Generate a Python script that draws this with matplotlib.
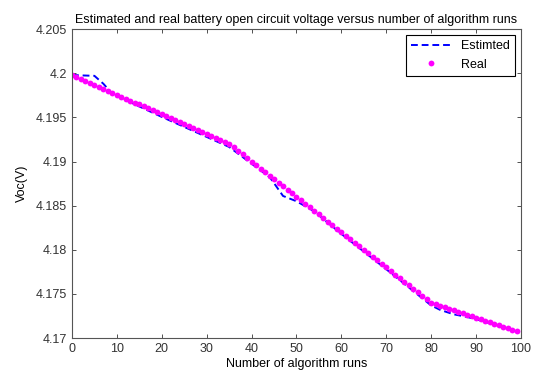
import matplotlib
matplotlib.use("Agg")
import matplotlib.pyplot as plt
from matplotlib.ticker import FuncFormatter

plt.rcParams['font.family'] = ['Liberation Sans', 'DejaVu Sans']

# Real open circuit voltage, one value per algorithm run (0..99)
real_runs = list(range(100))
real_voc = [
    4.19980, 4.19958, 4.19935, 4.19913, 4.19891, 4.19869, 4.19846, 4.19824, 4.19802, 4.19779,
    4.19757, 4.19735, 4.19712, 4.19690, 4.19668, 4.19646, 4.19623, 4.19601, 4.19579, 4.19556,
    4.19534, 4.19512, 4.19489, 4.19467, 4.19445, 4.19423, 4.19400, 4.19378, 4.19356, 4.19333,
    4.19311, 4.19289, 4.19266, 4.19244, 4.19222, 4.19200, 4.19160, 4.19120, 4.19080, 4.19040,
    4.19000, 4.18960, 4.18920, 4.18880, 4.18840, 4.18800, 4.18760, 4.18720, 4.18680, 4.18640,
    4.18600, 4.18560, 4.18520, 4.18480, 4.18440, 4.18400, 4.18360, 4.18320, 4.18280, 4.18240,
    4.18200, 4.18160, 4.18120, 4.18080, 4.18040, 4.18000, 4.17960, 4.17920, 4.17880, 4.17840,
    4.17800, 4.17760, 4.17720, 4.17680, 4.17640, 4.17600, 4.17560, 4.17520, 4.17480, 4.17440,
    4.17400, 4.17383, 4.17366, 4.17349, 4.17333, 4.17316, 4.17299, 4.17282, 4.17265, 4.17248,
    4.17232, 4.17215, 4.17198, 4.17181, 4.17164, 4.17147, 4.17131, 4.17114, 4.17097, 4.17080,
]

# Estimated voltage (read at the breakpoints of the dashed curve)
est_runs = [0, 2, 5, 7, 9, 20, 35, 40, 44, 45, 47, 50, 54, 60, 70, 80, 82, 85, 88, 91, 95, 99]
est_voc = [4.19980, 4.19975, 4.19970, 4.19880, 4.19765, 4.19505, 4.19165, 4.18975, 4.18825,
           4.18755, 4.18610, 4.18550, 4.18435, 4.18180, 4.17780, 4.17370, 4.17320, 4.17270,
           4.17240, 4.17200, 4.17140, 4.17075]

x_ticks = list(range(0, 101, 10))
y_ticks = [4.17, 4.175, 4.18, 4.185, 4.19, 4.195, 4.2, 4.205]

fig = plt.figure(figsize=(5.33, 3.72), dpi=100)
ax = fig.add_axes([0.135, 0.091, 0.8425, 0.831])

ax.plot(est_runs, est_voc, "--", color=(0, 0, 1), lw=1.4, dashes=(3.5, 2), label="Estimted")
ax.plot(real_runs, real_voc, "o", color=(1, 0, 1), ms=4.2, mec="none", ls="none", label="Real")

ax.set_xlim(0, 100)
ax.set_ylim(4.17, 4.205)
ax.set_xticks(x_ticks)
ax.set_yticks(y_ticks)
ax.yaxis.set_major_formatter(FuncFormatter(lambda v, p: "%g" % round(v, 3)))
ax.tick_params(direction="in", top=True, right=True, labelsize=9, length=3, width=0.6, colors="#333333")
for s in ax.spines.values():
    s.set_linewidth(0.8)
    s.set_color("#555555")

ax.set_title("Estimated and real battery open circuit voltage versus number of algorithm runs",
             fontsize=9, pad=4)
ax.set_xlabel("Number of algorithm runs", fontsize=9, labelpad=2)
ax.set_ylabel("Voc(V)", fontsize=9, labelpad=6)

leg = ax.legend(loc="upper right", fontsize=9, fancybox=False, framealpha=1,
                edgecolor="black", borderpad=0.4, handlelength=3.2)
leg.get_frame().set_linewidth(0.8)

fig.savefig("out.png", dpi=100)
